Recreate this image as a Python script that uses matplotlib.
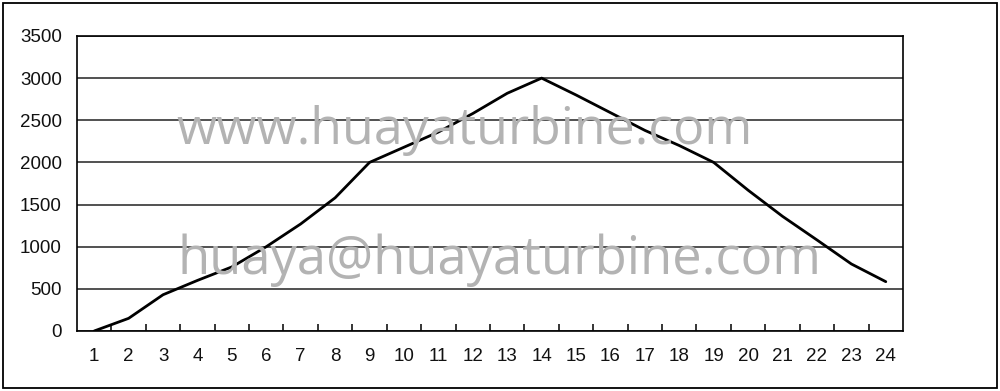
#!/usr/bin/env python3
"""Recreate the load curve chart (24 points) with watermark text."""

import matplotlib
matplotlib.use("Agg")
import matplotlib.pyplot as plt
from matplotlib.patches import Rectangle
import numpy as np

# Data
HOURS = list(range(1, 25))
VALUES = [0, 150, 430, 600, 760, 1000, 1270, 1580, 2000, 2180, 2360, 2580,
          2820, 3000, 2800, 2590, 2380, 2200, 2000, 1670, 1360, 1080, 795, 585]
Y_TICKS = [0, 500, 1000, 1500, 2000, 2500, 3000, 3500]
WATERMARKS = ["www.huayaturbine.com", "huaya@huayaturbine.com"]

plt.rcParams["font.family"] = ["Liberation Sans", "DejaVu Sans"]

fig = plt.figure(figsize=(10, 3.91), dpi=100)
ax = fig.add_axes([0.077, 0.1535, 0.826, 0.7545])

# outer frame around the whole figure
fig.patches.append(Rectangle((0.003, 0.008), 0.994, 0.984, transform=fig.transFigure,
                             fill=False, edgecolor="black", linewidth=1.3))

ax.plot(HOURS, VALUES, color="black", linewidth=2.0, zorder=3,
        solid_joinstyle="round", solid_capstyle="round")

ax.set_xlim(0.5, 24.5)
ax.set_ylim(0, 3500)
ax.set_yticks(Y_TICKS)
ax.set_yticklabels([str(v) for v in Y_TICKS])
ax.set_xticks(HOURS)
ax.set_xticklabels([str(h) for h in HOURS])
ax.set_xticks(np.arange(1.5, 24, 1.0), minor=True)

ax.tick_params(axis="y", length=0, pad=11, labelsize=13.5, colors="#111111")
ax.tick_params(axis="x", which="major", length=0, pad=12, labelsize=13.5, colors="#111111")
ax.tick_params(axis="x", which="minor", direction="in", length=5, width=1.1, color="black")

ax.grid(axis="y", color="#222222", linewidth=1.1, zorder=1)
ax.set_axisbelow(True)
for s in ax.spines.values():
    s.set_linewidth(1.2)
    s.set_color("black")

# watermark texts
fig.text(0.465, 0.665, WATERMARKS[0], ha="center", va="center", fontsize=37.4,
         color="#b3b3b3", family=["Open Sans", "DejaVu Sans"], zorder=0.5)
fig.text(0.499, 0.335, WATERMARKS[1], ha="center", va="center", fontsize=37.9,
         color="#b3b3b3", family=["Open Sans", "DejaVu Sans"], zorder=0.5)

fig.savefig("out.png", dpi=100)
